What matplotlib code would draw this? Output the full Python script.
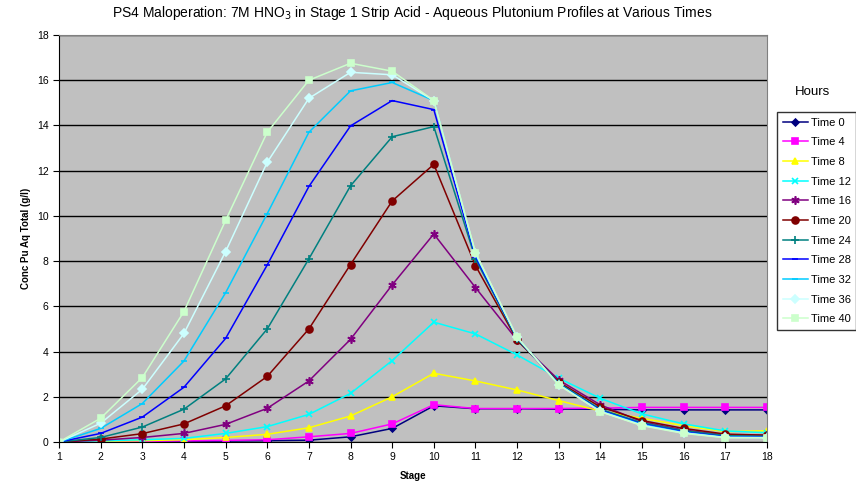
import numpy as np
import matplotlib.pyplot as plt

plt.rcParams['font.family'] = ['Liberation Sans', 'DejaVu Sans']

stages = list(range(1, 19))

time_0 = [0, 0, 0, 0.02, 0.04, 0.06, 0.08, 0.23, 0.6, 1.6, 1.47, 1.47, 1.45, 1.45, 1.42, 1.42, 1.42, 1.42]
time_4 = [0, 0.01, 0.03, 0.05, 0.07, 0.1, 0.23, 0.38, 0.8, 1.65, 1.48, 1.48, 1.48, 1.5, 1.53, 1.53, 1.53, 1.53]
time_8 = [0, 0.03, 0.06, 0.1, 0.2, 0.34, 0.63, 1.15, 2.0, 3.04, 2.7, 2.3, 1.83, 1.37, 1.05, 0.72, 0.46, 0.5]
time_12 = [0, 0.05, 0.1, 0.16, 0.38, 0.68, 1.22, 2.15, 3.6, 5.3, 4.78, 3.85, 2.82, 1.93, 1.24, 0.8, 0.49, 0.41]
time_16 = [0, 0.08, 0.2, 0.38, 0.78, 1.49, 2.7, 4.54, 6.95, 9.2, 6.83, 4.51, 2.74, 1.64, 0.9, 0.53, 0.31, 0.3]
time_20 = [0, 0.13, 0.37, 0.8, 1.6, 2.9, 5.0, 7.85, 10.66, 12.28, 7.8, 4.5, 2.65, 1.55, 0.95, 0.6, 0.35, 0.3]
time_24 = [0, 0.2, 0.66, 1.45, 2.79, 5.0, 8.1, 11.33, 13.5, 13.95, 8.1, 4.55, 2.6, 1.45, 0.85, 0.5, 0.28, 0.25]
time_28 = [0, 0.38, 1.1, 2.42, 4.58, 7.83, 11.3, 13.98, 15.1, 14.7, 8.2, 4.6, 2.55, 1.4, 0.8, 0.45, 0.23, 0.22]
time_32 = [0, 0.6, 1.7, 3.58, 6.6, 10.1, 13.7, 15.53, 15.9, 15.1, 8.3, 4.62, 2.55, 1.37, 0.77, 0.42, 0.21, 0.2]
time_36 = [0, 0.83, 2.33, 4.8, 8.42, 12.37, 15.2, 16.35, 16.24, 15.1, 8.35, 4.63, 2.53, 1.35, 0.74, 0.4, 0.2, 0.19]
time_40 = [0, 1.05, 2.85, 5.77, 9.8, 13.7, 16.0, 16.75, 16.4, 15.1, 8.38, 4.63, 2.52, 1.34, 0.72, 0.38, 0.19, 0.19]

series = [time_0, time_4, time_8, time_12, time_16, time_20, time_24, time_28, time_32, time_36, time_40]
labels = ['Time 0', 'Time 4', 'Time 8', 'Time 12', 'Time 16', 'Time 20',
          'Time 24', 'Time 28', 'Time 32', 'Time 36', 'Time 40']
colors = ['#000080', '#FF00FF', '#FFFF00', '#00FFFF', '#800080', '#800000',
          '#008080', '#0000FF', '#00CCFF', '#CCFFFF', '#CCFFCC']
markers = ['D', 's', '^', 'x', (6, 2, 0), 'o', '+', '_', '_', 'D', 's']
msizes = [3.5, 4.5, 5, 5, 6, 5, 6, 4, 5, 4, 5]

fig = plt.figure(figsize=(8.56, 4.82), dpi=100)
ax = fig.add_axes([59 / 856, 1 - 442 / 482, (767 - 59) / 856, (442 - 35) / 482])
ax.set_facecolor('#C0C0C0')

for y, lab, c, m, ms in zip(series, labels, colors, markers, msizes):
    ax.plot(stages, y, color=c, marker=m, markersize=ms, linewidth=1.1,
            markeredgewidth=1.2, label=lab)

ax.set_xlim(1, 18)
ax.set_ylim(0, 18)
ax.set_xticks(stages)
ax.set_yticks(np.arange(0, 19, 2))
ax.yaxis.grid(True, color='black', linewidth=1)
ax.set_axisbelow(True)
ax.tick_params(labelsize=7.5, length=4, width=0.8)
for s in ax.spines.values():
    s.set_color('#808080')
ax.spines['left'].set_color('black')
ax.spines['bottom'].set_color('black')

ax.set_xlabel('Stage', fontsize=7, fontweight='bold', labelpad=6)
ax.set_ylabel('Conc Pu Aq Total (g/l)', fontsize=7, fontweight='bold', labelpad=4)

fig.text(412 / 856, 1 - 13 / 482,
         'PS4 Maloperation: 7M HNO$_3$ in Stage 1 Strip Acid - Aqueous Plutonium Profiles at Various Times',
         ha='center', va='center', fontsize=10)

leg = fig.legend(loc='upper left', bbox_to_anchor=(777 / 856, 1 - 112 / 482),
                 fontsize=8, frameon=True, fancybox=False, edgecolor='black',
                 handlelength=2.25, handletextpad=0.3, labelspacing=0.87,
                 borderpad=0.5, borderaxespad=0)
leg.get_frame().set_linewidth(1)
fig.text(812 / 856, 1 - 92 / 482, 'Hours', ha='center', va='center', fontsize=9.5)

fig.savefig('out.png', dpi=100)
